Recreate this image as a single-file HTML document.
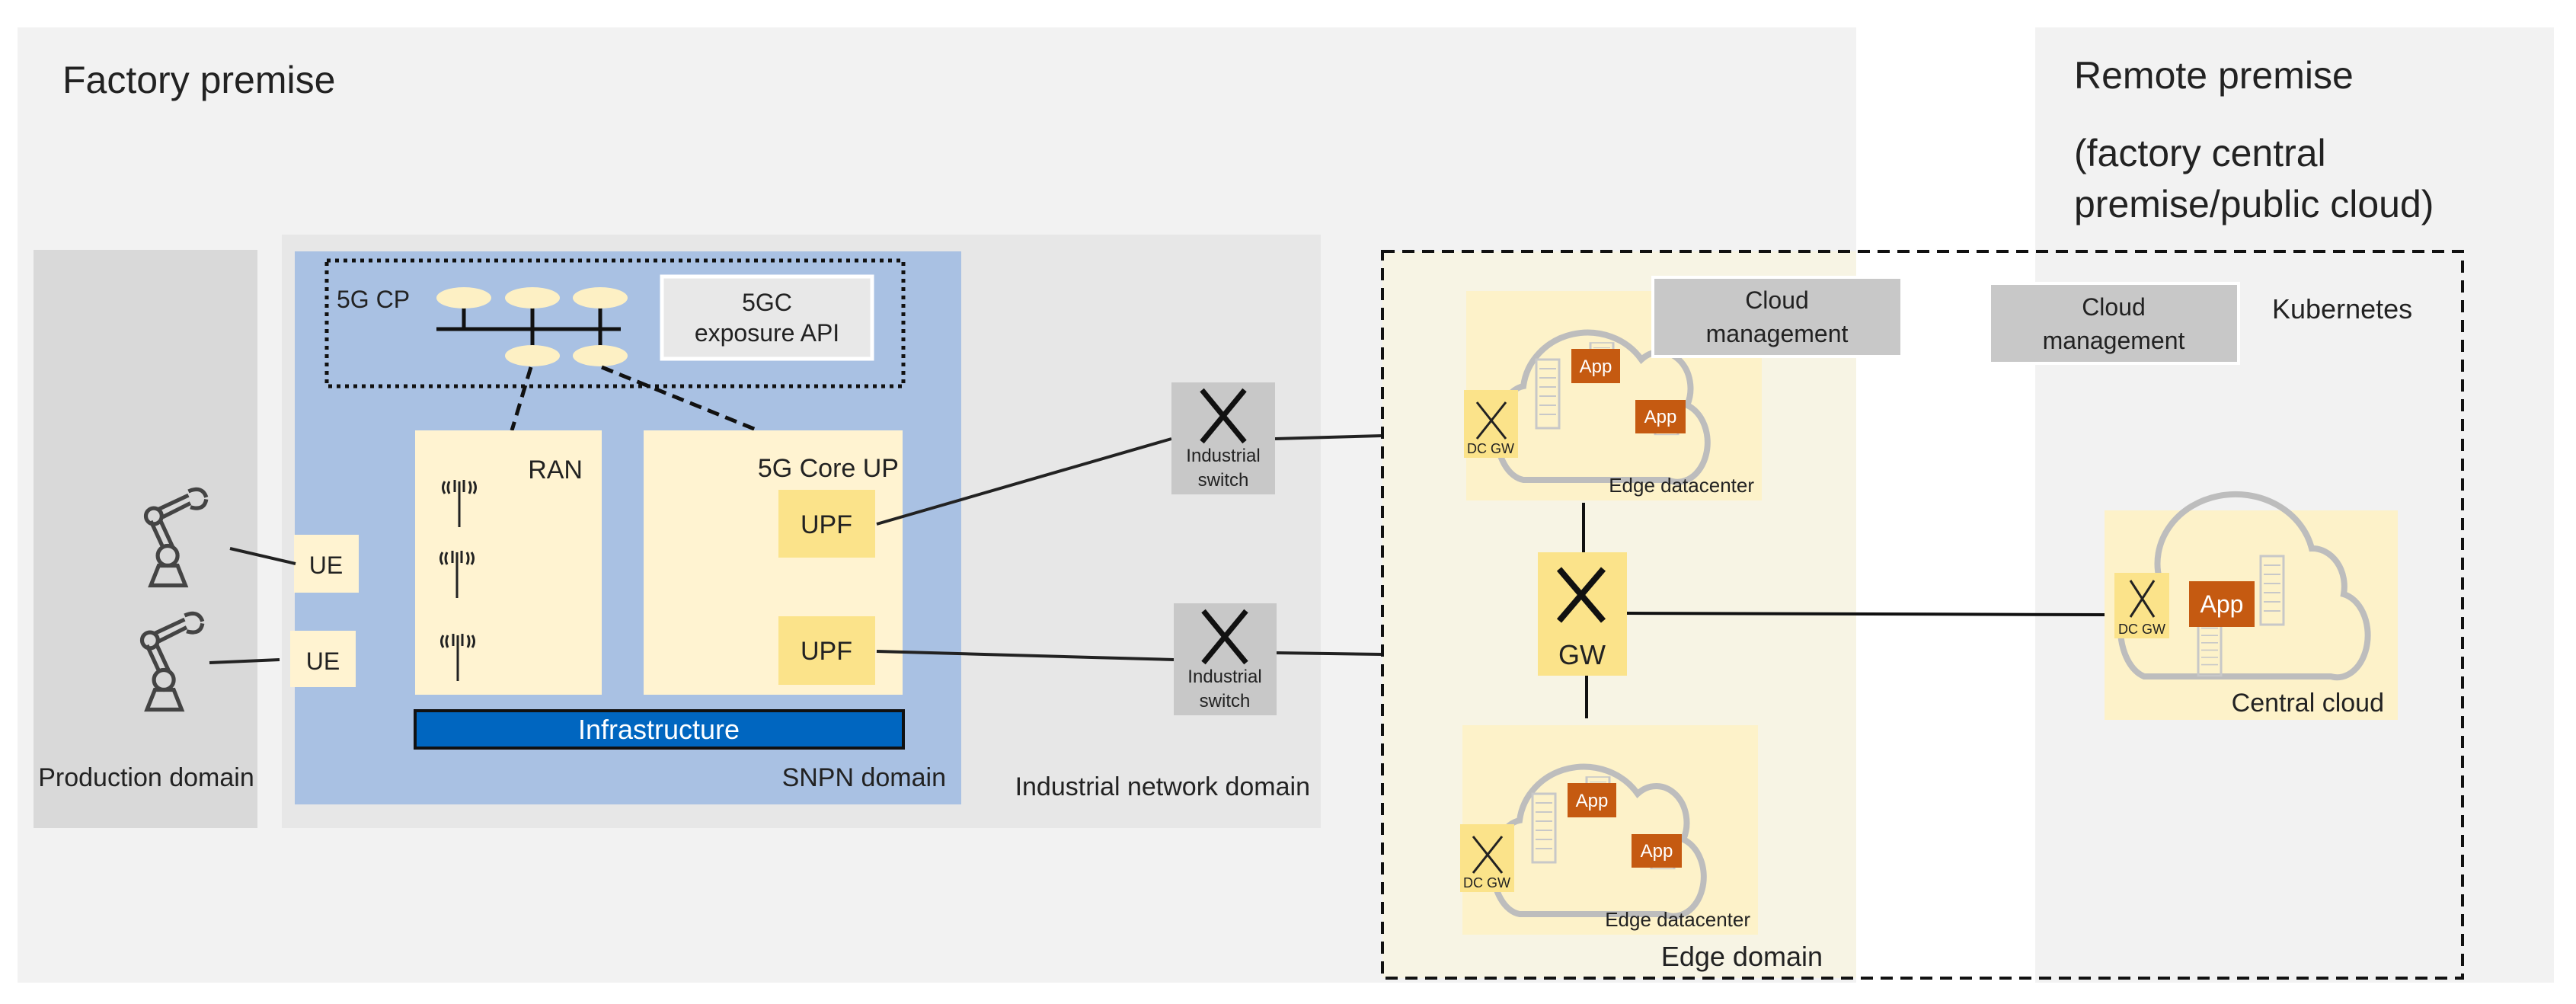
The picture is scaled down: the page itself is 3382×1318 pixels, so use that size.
<!DOCTYPE html>
<html><head><meta charset="utf-8"><style>html,body{margin:0;padding:0;background:#fff}svg{display:block}text{font-family:"Liberation Sans",sans-serif;fill:#222}</style></head><body>
<svg width="3382" height="1318" viewBox="0 0 3382 1318" xmlns="http://www.w3.org/2000/svg">
<defs>
<g id="srv">
<rect x="0" y="0" width="30" height="90" fill="none" stroke="#c8c8c8" stroke-width="3"/>
<g stroke="#c8c8c8" stroke-width="2"><line x1="4" y1="12" x2="26" y2="12"/><line x1="4" y1="24" x2="26" y2="24"/><line x1="4" y1="36" x2="26" y2="36"/><line x1="4" y1="48" x2="26" y2="48"/><line x1="4" y1="60" x2="26" y2="60"/><line x1="4" y1="72" x2="26" y2="72"/></g>
</g>
<g id="edc">
<rect x="0" y="0" width="388" height="275" fill="#fdf2c9"/>
<path d="M75,248 H265 A38 50 0 0 0 290 150 A40 48 0 0 0 230 90 A85 80 0 0 0 75 125 A40 62 0 0 0 75 248 Z" fill="none" stroke="#bdbdbd" stroke-width="8"/>
<use href="#srv" transform="translate(92,90) scale(1,1.0)"/>
<use href="#srv" transform="translate(163,68) scale(1,0.55)"/>
<use href="#srv" transform="translate(248,148) scale(1,0.45)"/>
<rect x="138" y="76" width="64" height="45" fill="#c55a11"/>
<text x="170" y="107" font-size="24" text-anchor="middle" style="fill:#fff">App</text>
<rect x="222" y="143" width="66" height="44" fill="#c55a11"/>
<text x="255" y="173" font-size="24" text-anchor="middle" style="fill:#fff">App</text>
<rect x="-3" y="130" width="71" height="89" fill="#fbe38a"/>
<path d="M14,146 L52,194 M52,146 L14,194" stroke="#222" stroke-width="3"/>
<text x="32" y="213" font-size="18" text-anchor="middle">DC GW</text>
<text x="378" y="264" font-size="26" text-anchor="end">Edge datacenter</text>
</g>
<g id="robot" fill="none" stroke="#444" stroke-width="4">
<path d="M10,95 L45,95 L37,75 L18,75 Z"/>
<circle cx="27" cy="65" r="10"/>
<path d="M22,56 L10,30 M32,56 L20,30"/>
<circle cx="13" cy="25" r="8"/>
<path d="M18,18 L48,4 M22,26 L50,12"/>
<path d="M48,0 Q62,-6 66,6 M50,16 Q64,20 66,8"/>
</g>
<g id="ant" fill="none" stroke="#222" stroke-width="3">
<line x1="0" y1="0" x2="0" y2="60"/>
<path d="M-6,-2 V14 M6,-2 V14"/>
<path d="M-13,0 Q-17,8 -13,16 M13,0 Q17,8 13,16"/>
<path d="M-19,0 Q-24,8 -19,16 M19,0 Q24,8 19,16"/>
</g>
</defs>

<rect x="23" y="36" width="2414" height="1254" fill="#f2f2f2"/>
<rect x="2672" y="36" width="681" height="1254" fill="#f2f2f2"/>
<text x="82" y="122" font-size="50">Factory premise</text>
<text x="2723" y="116" font-size="50">Remote premise</text>
<text x="2723" y="218" font-size="50">(factory central</text>
<text x="2723" y="285" font-size="50">premise/public cloud)</text>

<rect x="44" y="328" width="294" height="759" fill="#d9d9d9"/>
<text x="192" y="1032" font-size="34" text-anchor="middle">Production domain</text>
<rect x="370" y="308" width="1364" height="779" fill="#e7e7e7"/>
<text x="1720" y="1044" font-size="34" text-anchor="end">Industrial  network domain</text>
<rect x="387" y="330" width="875" height="726" fill="#a9c1e3"/>
<text x="1242" y="1032" font-size="34" text-anchor="end">SNPN domain</text>
<rect x="429" y="342" width="757" height="165" fill="none" stroke="#111" stroke-width="5" stroke-dasharray="5,6"/>
<text x="442" y="404" font-size="32">5G CP</text>
<rect x="869" y="363" width="276" height="108" fill="#e8e8e8" stroke="#fff" stroke-width="5"/>
<text x="1007" y="408" font-size="32" text-anchor="middle">5GC</text>
<text x="1007" y="448" font-size="32" text-anchor="middle">exposure API</text>
<g stroke="#111" stroke-width="5">
<line x1="573" y1="432" x2="815" y2="432"/>
<line x1="609" y1="400" x2="609" y2="432"/>
<line x1="699" y1="400" x2="699" y2="460"/>
<line x1="788" y1="400" x2="788" y2="460"/>
</g>
<g fill="#fdf0c4">
<ellipse cx="609" cy="391" rx="36" ry="14"/><ellipse cx="699" cy="391" rx="36" ry="14"/><ellipse cx="788" cy="391" rx="36" ry="14"/>
<ellipse cx="699" cy="467" rx="36" ry="14"/><ellipse cx="788" cy="467" rx="36" ry="14"/>
</g>
<g stroke="#111" stroke-width="5" stroke-dasharray="16,9">
<line x1="697" y1="482" x2="672" y2="565"/>
<line x1="790" y1="482" x2="995" y2="565"/>
</g>
<rect x="545" y="565" width="245" height="347" fill="#fff3d1"/>
<text x="765" y="628" font-size="34" text-anchor="end">RAN</text>
<use href="#ant" transform="translate(603,632)"/>
<use href="#ant" transform="translate(600,725)"/>
<use href="#ant" transform="translate(601,834)"/>
<rect x="845" y="565" width="340" height="347" fill="#fff3d1"/>
<text x="1180" y="626" font-size="34" text-anchor="end">5G Core UP</text>
<rect x="1022" y="643" width="127" height="89" fill="#fbe38a"/>
<text x="1085" y="700" font-size="34" text-anchor="middle">UPF</text>
<rect x="1022" y="809" width="127" height="90" fill="#fbe38a"/>
<text x="1085" y="866" font-size="34" text-anchor="middle">UPF</text>
<rect x="545" y="933" width="641" height="49" fill="#0066c0" stroke="#111" stroke-width="4"/>
<text x="865" y="970" font-size="36" text-anchor="middle" style="fill:#fff">Infrastructure</text>

<rect x="386" y="702" width="85" height="76" fill="#fff3d1"/>
<text x="428" y="753" font-size="32" text-anchor="middle">UE</text>
<rect x="381" y="828" width="86" height="74" fill="#fff3d1"/>
<text x="424" y="879" font-size="32" text-anchor="middle">UE</text>
<use href="#robot" transform="translate(185,645) scale(1.3)"/>
<use href="#robot" transform="translate(180,808) scale(1.3)"/>
<g stroke="#222" stroke-width="4">
<line x1="302" y1="720" x2="388" y2="740"/>
<line x1="275" y1="870" x2="367" y2="866"/>
<line x1="1151" y1="688" x2="1538" y2="576"/>
<line x1="1674" y1="576" x2="1815" y2="572"/>
<line x1="1151" y1="855" x2="1541" y2="866"/>
<line x1="1676" y1="857" x2="1815" y2="859"/>
</g>
<rect x="1538" y="502" width="136" height="147" fill="#c8c8c8"/>
<path d="M1578,512 L1634,580 M1634,512 L1578,580" stroke="#111" stroke-width="7"/>
<text x="1606" y="606" font-size="24" text-anchor="middle">Industrial</text>
<text x="1606" y="638" font-size="24" text-anchor="middle">switch</text>
<rect x="1541" y="792" width="135" height="147" fill="#c8c8c8"/>
<path d="M1580,802 L1636,870 M1636,802 L1580,870" stroke="#111" stroke-width="7"/>
<text x="1608" y="896" font-size="24" text-anchor="middle">Industrial</text>
<text x="1608" y="928" font-size="24" text-anchor="middle">switch</text>

<rect x="1815" y="330" width="622" height="954" fill="#f7f4e4"/>
<use href="#edc" transform="translate(1925,382)"/>
<use href="#edc" transform="translate(1920,952)"/>
<text x="2393" y="1268" font-size="36" text-anchor="end">Edge domain</text>
<g stroke="#111" stroke-width="4">
<line x1="2079" y1="660" x2="2079" y2="725"/>
<line x1="2083" y1="887" x2="2083" y2="943"/>
<line x1="2136" y1="805" x2="2763" y2="807"/>
</g>
<rect x="2019" y="725" width="117" height="162" fill="#fbe38a"/>
<path d="M2047,747 L2105,815 M2105,747 L2047,815" stroke="#111" stroke-width="8"/>
<text x="2077" y="872" font-size="36" text-anchor="middle">GW</text>
<rect x="2170" y="364" width="327" height="104" fill="#c8c8c8" stroke="#fff" stroke-width="4"/>
<text x="2333" y="405" font-size="32" text-anchor="middle">Cloud</text>
<text x="2333" y="449" font-size="32" text-anchor="middle">management</text>
<rect x="2612" y="372" width="327" height="105" fill="#c8c8c8" stroke="#fff" stroke-width="4"/>
<text x="2775" y="414" font-size="32" text-anchor="middle">Cloud</text>
<text x="2775" y="458" font-size="32" text-anchor="middle">management</text>
<text x="2983" y="418" font-size="36">Kubernetes</text>

<rect x="2763" y="670" width="385" height="275" fill="#fdf2c9"/>
<path d="M2815,888 H3060 A40 55 0 0 0 3077 780 A42 50 0 0 0 3035 720 A90 80 0 0 0 2835 760 A40 64 0 0 0 2815 888 Z" fill="none" stroke="#bdbdbd" stroke-width="8"/>
<use href="#srv" transform="translate(2968,730)"/>
<use href="#srv" transform="translate(2886,815) scale(1,0.8)"/>
<rect x="2874" y="763" width="86" height="60" fill="#c55a11"/>
<text x="2917" y="804" font-size="32" text-anchor="middle" style="fill:#fff">App</text>
<rect x="2776" y="752" width="72" height="86" fill="#fbe38a"/>
<path d="M2797,762 L2828,810 M2828,762 L2797,810" stroke="#222" stroke-width="3"/>
<text x="2812" y="832" font-size="18" text-anchor="middle">DC GW</text>
<text x="3130" y="934" font-size="34" text-anchor="end">Central cloud</text>

<rect x="1815" y="330" width="1418" height="954" fill="none" stroke="#111" stroke-width="4" stroke-dasharray="16,10"/>
</svg>
</body></html>
